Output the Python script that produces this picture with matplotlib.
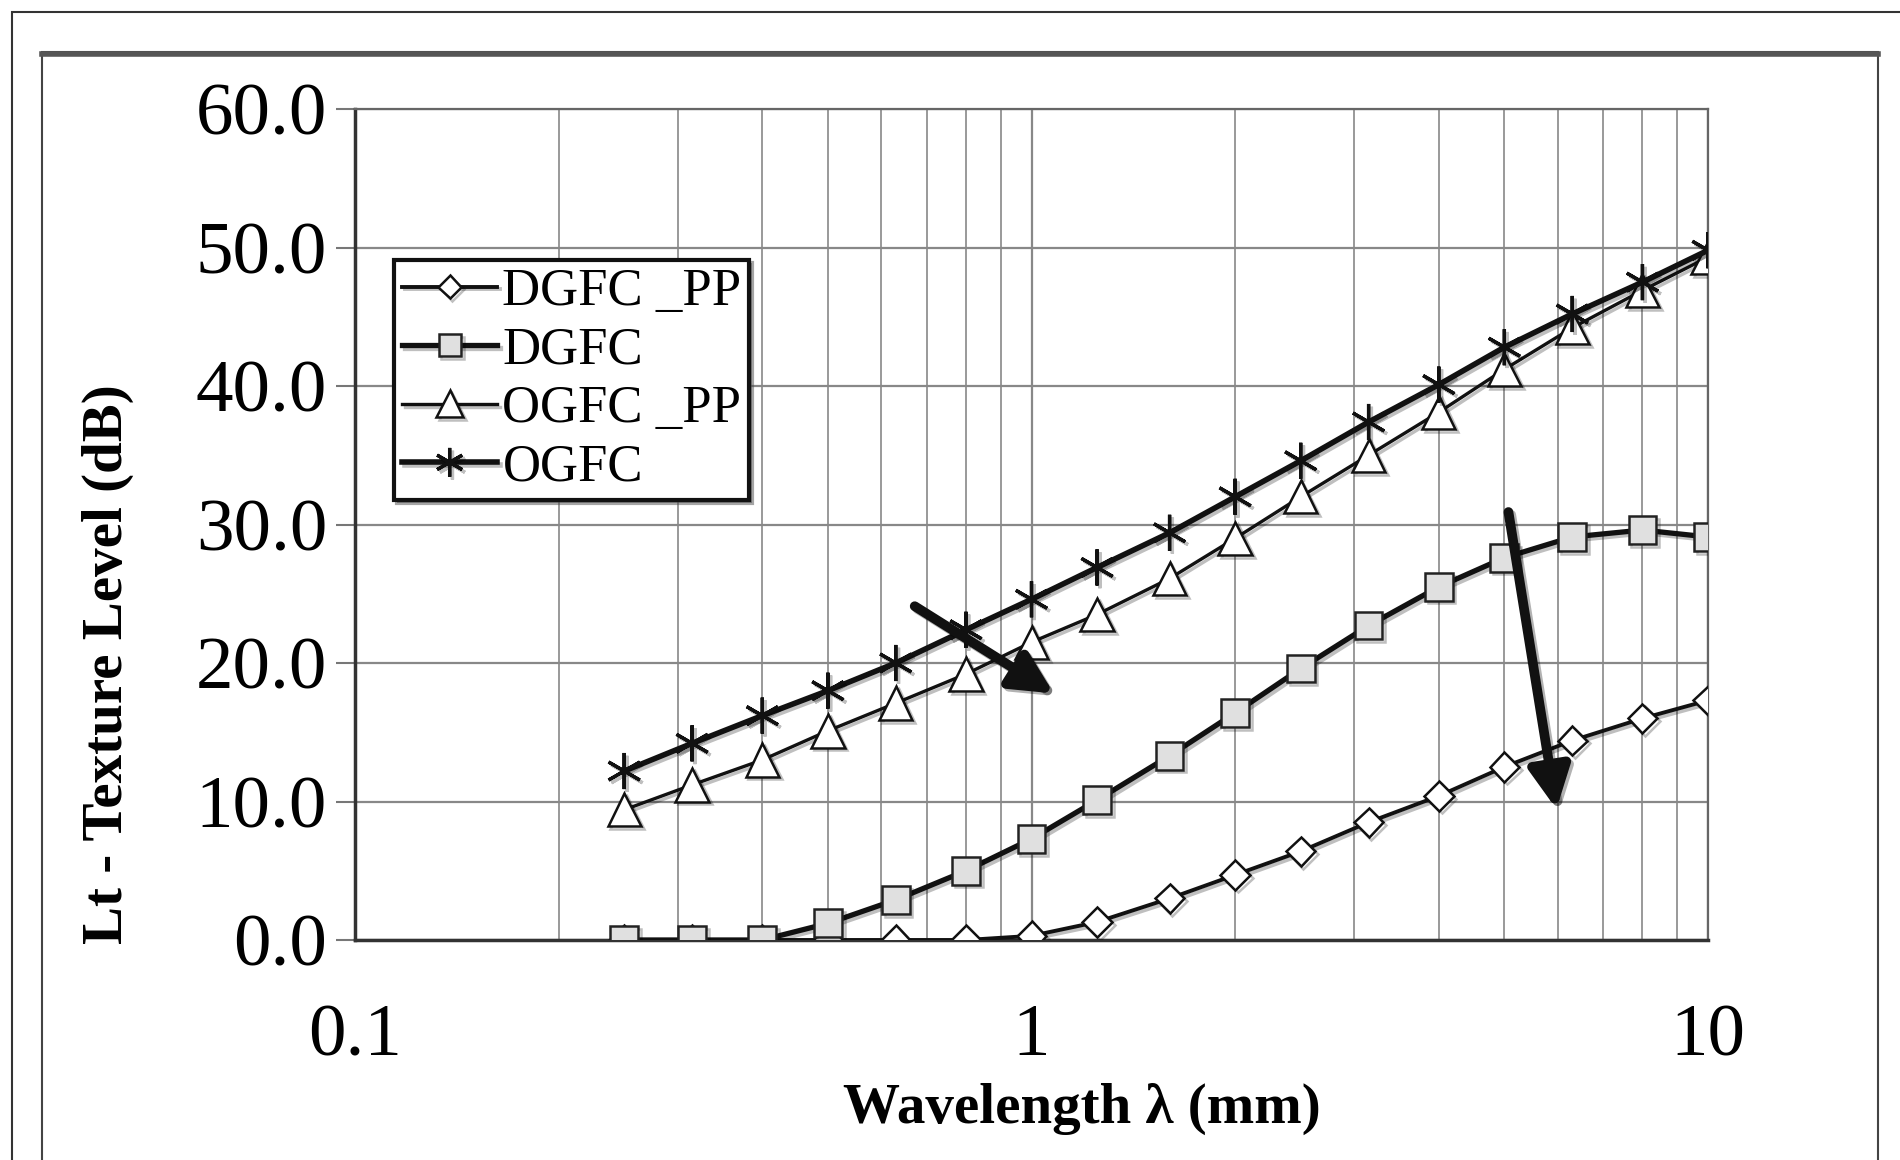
import matplotlib
matplotlib.use("Agg")
import matplotlib.pyplot as plt
from matplotlib.patches import Rectangle
from matplotlib.ticker import FixedLocator, NullFormatter
import matplotlib.patheffects as pe

# dados
comprimentos = [0.25, 0.315, 0.4, 0.5, 0.63, 0.8, 1, 1.25, 1.6, 2, 2.5, 3.15, 4, 5, 6.3, 8, 10]
dgfc_pp = [0.0, 0.0, 0.0, 0.0, 0.0, 0.0, 0.3, 1.3, 3.0, 4.7, 6.4, 8.5, 10.4, 12.5, 14.4, 16.0, 17.3]
dgfc = [0.0, 0.0, 0.0, 1.2, 2.9, 5.0, 7.3, 10.1, 13.3, 16.4, 19.6, 22.7, 25.5, 27.6, 29.1, 29.6, 29.1]
ogfc_pp = [9.4, 11.2, 13.0, 15.1, 17.1, 19.2, 21.5, 23.5, 26.1, 29.0, 32.0, 35.0, 38.1, 41.2, 44.2, 46.9, 49.3]
ogfc = [12.2, 14.2, 16.2, 18.0, 20.0, 22.4, 24.6, 26.9, 29.4, 32.0, 34.6, 37.4, 40.1, 42.8, 45.2, 47.5, 49.8]
nomes = ["DGFC _PP", "DGFC", "OGFC _PP", "OGFC"]
y_ticks = [0, 10, 20, 30, 40, 50, 60]
x_ticks = [0.1, 1, 10]

plt.rcParams['font.family'] = ['Liberation Serif', 'DejaVu Serif']

fig = plt.figure(figsize=(19, 11.6), dpi=100)
fig.patch.set_facecolor('white')

# molduras externas
fig.patches.append(Rectangle((12/1900, -0.1), 1.2, 1.1 - 12/1160, transform=fig.transFigure,
                             fill=False, ec='#333333', lw=1.5))
fig.patches.append(Rectangle((42/1900, -0.1), (1878-42)/1900, 1.1 - 52/1160, transform=fig.transFigure,
                             fill=False, ec='#444444', lw=1.5))
fig.lines.append(plt.Line2D([42/1900, 1878/1900], [1 - 54/1160] * 2, transform=fig.transFigure,
                            color='#555555', lw=4))

ax = fig.add_axes([355/1900, 1 - 940/1160, (1708-355)/1900, (940-109)/1160])
ax.set_xscale('log')
ax.set_xlim(0.1, 10)
ax.set_ylim(0, 60)

sombra = [pe.SimpleLineShadow(offset=(2, -2), alpha=0.25), pe.Normal()]

ax.plot(comprimentos, dgfc_pp, color='#111111', lw=2.8, marker='D', ms=15, mfc='white',
        mec='#111111', mew=1.8, label=nomes[0], zorder=3, path_effects=sombra)
ax.plot(comprimentos, dgfc, color='#111111', lw=3.8, marker='s', ms=20, mfc='#e0e0e0',
        mec='#222222', mew=1.8, label=nomes[1], zorder=4, path_effects=sombra)
ax.plot(comprimentos, ogfc_pp, color='#111111', lw=2.4, marker='^', ms=24, mfc='white',
        mec='#111111', mew=1.8, label=nomes[2], zorder=5, path_effects=sombra)
ax.plot(comprimentos, ogfc, color='#111111', lw=4, marker=(6, 2, 0), ms=26,
        mec='#111111', mew=2.4, label=nomes[3], zorder=6, path_effects=sombra)

# setas
seta = dict(arrowstyle='-|>,head_length=1.0,head_width=0.5', mutation_scale=25,
            color='#111111', lw=7, shrinkA=0, shrinkB=0,
            path_effects=[pe.SimpleLineShadow(offset=(2, -2), alpha=0.3), pe.Normal()])
ax.annotate('', xy=(1.079, 17.8), xytext=(0.672, 24.1), arrowprops=seta, zorder=7)
ax.annotate('', xy=(5.97, 9.45), xytext=(5.07, 30.9), arrowprops=seta, zorder=7)

# grade
ax.xaxis.set_major_locator(FixedLocator(x_ticks))
ax.set_xticklabels(['0.1', '1', '10'])
ax.xaxis.set_minor_formatter(NullFormatter())
ax.set_yticks(y_ticks)
ax.set_yticklabels(['{:.1f}'.format(v) for v in y_ticks])
ax.grid(True, which='major', color='#888888', lw=1.6)
ax.grid(True, which='minor', axis='x', color='#999999', lw=1.4)
ax.set_axisbelow(True)
ax.tick_params(axis='x', which='both', length=0, pad=46, labelsize=54)
ax.tick_params(axis='y', which='major', length=14, width=1.5, color='#777777', pad=6, labelsize=54)
for lado in ['top', 'right']:
    ax.spines[lado].set_color('#666666')
    ax.spines[lado].set_linewidth(1.6)
for lado in ['left', 'bottom']:
    ax.spines[lado].set_color('#333333')
    ax.spines[lado].set_linewidth(2.5)

ax.set_xlabel('Wavelength λ (mm)', fontsize=41, fontweight='bold', va='center')
ax.xaxis.set_label_coords(0.537, -0.203)
ax.set_ylabel('Lt - Texture Level (dB)', fontsize=41, fontweight='bold', va='center')
ax.yaxis.set_label_coords(-0.183, 0.332)

leg = ax.legend(loc='upper left', bbox_to_anchor=(0.029, 0.818), borderaxespad=0,
                fontsize=38, frameon=True, fancybox=False, shadow=True, handlelength=1.8,
                handletextpad=0.1, labelspacing=0.2, borderpad=0.15, markerscale=0.8)
leg.get_frame().set_edgecolor('#111111')
leg.get_frame().set_linewidth(3)

fig.savefig('out.png', dpi=100)
